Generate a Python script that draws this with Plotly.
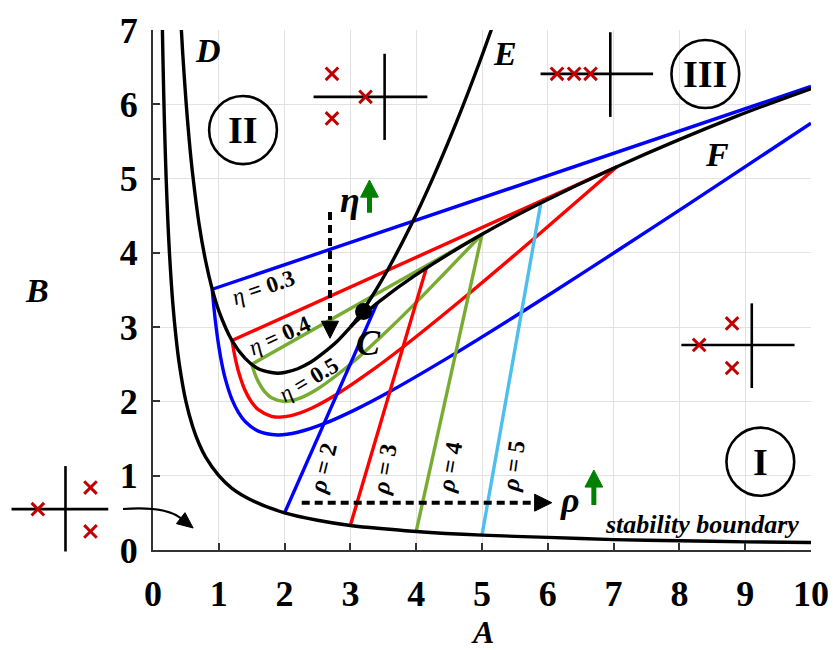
import plotly.graph_objects as go

# ---------------- curves of the (A, B) parameter plane ----------------
# stability boundary  A*B = 1
stab_A = [0.143, 0.15, 0.165, 0.18, 0.2, 0.225, 0.25, 0.3, 0.35, 0.4, 0.5, 0.6, 0.7, 0.8,
          1.0, 1.2, 1.5, 2.0, 2.5, 3.0, 4.0, 5.0, 6.0, 7.0, 8.0, 9.0, 10.0]
stab_B = [7.0, 6.67, 6.06, 5.56, 5.0, 4.44, 4.0, 3.33, 2.86, 2.5, 2.0, 1.67, 1.43, 1.25,
          1.0, 0.83, 0.67, 0.5, 0.4, 0.33, 0.25, 0.2, 0.17, 0.14, 0.125, 0.11, 0.1]

# boundary D (real root equal to real part of the complex pair), ends at C
D_A = [0.43, 0.45, 0.5, 0.55, 0.6, 0.7, 0.8, 0.9, 1.0, 1.2, 1.4, 1.6, 1.8, 1.9, 2.0, 2.2, 2.4, 2.6, 2.8, 3.0]
D_B = [7.02, 6.71, 6.06, 5.52, 5.08, 4.39, 3.89, 3.51, 3.22, 2.82, 2.58, 2.44, 2.39, 2.38, 2.39, 2.44, 2.53, 2.66, 2.81, 3.0]

# boundary E (double real root, upper branch)
E_A = [3.0, 3.026, 3.094, 3.192, 3.31, 3.444, 3.591, 3.909, 4.25, 4.607, 4.974, 5.16]
E_B = [3.0, 3.028, 3.107, 3.228, 3.389, 3.583, 3.81, 4.351, 5.0, 5.749, 6.593, 7.05]

# boundary F (double real root, lower branch)
F_A = [3.0, 3.035, 3.163, 3.441, 3.978, 5.0, 5.838, 7.05, 8.863, 10.0]
F_B = [3.0, 3.032, 3.14, 3.347, 3.693, 4.25, 4.647, 5.16, 5.837, 6.21]

# point C
C_A = [3.2]
C_B = [3.21]

# ---------------- constant eta loops ----------------
eta_values = [0.3, 0.4, 0.5]
eta_colors = ["#0000FF", "#FF0000", "#77AC30"]

eta_upper_A = [[0.9, 10.0], [1.2, 7.05], [1.5, 5.0]]
eta_upper_B = [[3.51, 6.24], [2.82, 5.16], [2.5, 4.25]]

eta_lower_A = [
    [0.9, 0.92, 0.95, 1.0, 1.05, 1.1, 1.2, 1.3, 1.4, 1.6, 1.89, 2.2, 2.6, 3.1, 3.6, 4.6, 5.6, 6.6, 7.6, 8.6, 10.0],
    [1.2, 1.25, 1.3, 1.4, 1.5, 1.6, 1.8, 1.918, 2.1, 2.4, 2.8, 3.3, 3.8, 4.8, 5.8, 7.05],
    [1.5, 1.55, 1.6, 1.7, 1.8, 2.0, 2.2, 2.5, 3.0, 3.5, 4.0, 5.0],
]
eta_lower_B = [
    [3.51, 3.317, 3.067, 2.74, 2.492, 2.3, 2.027, 1.849, 1.73, 1.6, 1.549, 1.585, 1.7, 1.9, 2.133, 2.65, 3.2, 3.767, 4.343, 4.925, 5.746],
    [2.82, 2.582, 2.4, 2.147, 1.989, 1.89, 1.8, 1.789, 1.809, 1.905, 2.1, 2.4, 2.733, 3.45, 4.2, 5.16],
    [2.5, 2.368, 2.267, 2.129, 2.05, 2.0, 2.033, 2.167, 2.5, 2.9, 3.333, 4.25],
]

# ---------------- constant rho lines ----------------
rho_values = [2, 3, 4, 5]
rho_colors = ["#0000FF", "#FF0000", "#77AC30", "#4DBEEE"]
rho_A = [[2.0, 3.41], [3.0, 4.155], [4.0, 5.0], [5.0, 5.894]]
rho_B = [[0.5, 3.33], [0.333, 3.798], [0.25, 4.25], [0.2, 4.67]]

# label positions / angles
eta_label_pos = [(1.68, 3.53, -19), (1.93, 2.89, -24), (2.37, 2.30, -31)]
rho_label_pos = [(2.59, 1.10, -76), (3.52, 1.09, -80), (4.51, 1.12, -80), (5.48, 1.13, -82)]

SERIF = "Liberation Serif"
LW = 3.4

# plot-area size in pixels (fixed margins below)
PLOT_W, PLOT_H = 658, 520

fig = go.Figure()

for i, eta in enumerate(eta_values):
    fig.add_trace(go.Scatter(x=eta_upper_A[i], y=eta_upper_B[i], mode="lines",
                             line=dict(color=eta_colors[i], width=LW), hoverinfo="skip"))
    fig.add_trace(go.Scatter(x=eta_lower_A[i], y=eta_lower_B[i], mode="lines",
                             line=dict(color=eta_colors[i], width=LW, shape="spline", smoothing=0.8),
                             hoverinfo="skip"))

for i, rho in enumerate(rho_values):
    fig.add_trace(go.Scatter(x=rho_A[i], y=rho_B[i], mode="lines",
                             line=dict(color=rho_colors[i], width=LW), hoverinfo="skip"))

for xs, ys in [(stab_A, stab_B), (D_A, D_B), (E_A, E_B), (F_A, F_B)]:
    fig.add_trace(go.Scatter(x=xs, y=ys, mode="lines",
                             line=dict(color="black", width=LW, shape="spline", smoothing=0.8),
                             hoverinfo="skip"))

fig.add_trace(go.Scatter(x=C_A, y=C_B, mode="markers",
                         marker=dict(color="black", size=17), hoverinfo="skip"))

# ---------------- root-location sketches ----------------
def pp(a, b):
    return a / 10.0, b / 7.0

shapes = []
# (horizontal axis, vertical axis) of each small s-plane sketch, in (A, B)
sketch_axes = [
    ((2.44, 4.17, 6.10), (3.52, 5.52, 6.68)),
    ((5.89, 7.60, 6.41), (6.95, 5.83, 6.97)),
    ((8.03, 9.75, 2.76), (9.10, 2.18, 3.32)),
    ((-2.15, -0.68, 0.55), (-1.33, -0.02, 1.13)),
]
for (h0, h1, hy), (vx, v0, v1) in sketch_axes:
    x0, y0 = pp(h0, hy)
    x1, _ = pp(h1, hy)
    shapes.append(dict(type="line", xref="paper", yref="paper", x0=x0, y0=y0, x1=x1, y1=y0,
                       line=dict(color="black", width=2.6)))
    x0, y0 = pp(vx, v0)
    _, y1 = pp(vx, v1)
    shapes.append(dict(type="line", xref="paper", yref="paper", x0=x0, y0=y0, x1=x0, y1=y1,
                       line=dict(color="black", width=2.6)))

# root locations (red crosses)
root_A = [2.72, 2.72, 3.23, 6.14, 6.40, 6.65, 8.30, 8.80, 8.80, -1.75, -0.95, -0.95]
root_B = [6.41, 5.81, 6.10, 6.41, 6.41, 6.41, 2.76, 3.05, 2.45, 0.55, 0.84, 0.25]
ARM = 6.3  # half arm of a cross, px
for a, b in zip(root_A, root_B):
    cx, cy = pp(a, b)
    dx, dy = ARM / PLOT_W, ARM / PLOT_H
    for sgn in (1, -1):
        shapes.append(dict(type="line", xref="paper", yref="paper",
                           x0=cx - dx, y0=cy - sgn * dy, x1=cx + dx, y1=cy + sgn * dy,
                           line=dict(color="#C00000", width=3)))

# curved arrow from the left sketch into region I
p0 = pp(-0.456, 0.552)
pc = pp(0.187, 0.592)
p2 = pp(0.421, 0.429)
shapes.append(dict(type="path", xref="paper", yref="paper",
                   path=f"M {p0[0]} {p0[1]} Q {pc[0]} {pc[1]} {p2[0]} {p2[1]}",
                   line=dict(color="black", width=2.2)))
t, c1, c2 = pp(0.61, 0.296), pp(0.356, 0.355), pp(0.486, 0.503)
shapes.append(dict(type="path", xref="paper", yref="paper",
                   path=f"M {t[0]} {t[1]} L {c1[0]} {c1[1]} L {c2[0]} {c2[1]} Z",
                   fillcolor="black", line=dict(color="black", width=1)))

# region circles
region_centers = [(1.368, 5.653, "II"), (8.394, 6.407, "III"), (9.23, 1.189, "I")]
for a, b, _ in region_centers:
    shapes.append(dict(type="circle", xref="x", yref="y", x0=a - 0.515, x1=a + 0.515,
                       y0=b - 0.458, y1=b + 0.458, line=dict(color="black", width=2.6)))

# dashed eta arrow (downwards)
shapes.append(dict(type="line", xref="x", yref="y", x0=2.69, y0=4.55, x1=2.69, y1=3.1,
                   line=dict(color="black", width=4, dash="8px,5px")))
shapes.append(dict(type="path", xref="x", yref="y",
                   path="M 2.69 2.85 L 2.56 3.08 L 2.82 3.08 Z", fillcolor="black",
                   line=dict(color="black", width=1)))
# dashed rho arrow (to the right)
shapes.append(dict(type="line", xref="x", yref="y", x0=2.26, y0=0.637, x1=5.85, y1=0.637,
                   line=dict(color="black", width=4, dash="8px,5px")))
shapes.append(dict(type="path", xref="x", yref="y",
                   path="M 6.06 0.637 L 5.8 0.751 L 5.8 0.523 Z", fillcolor="black",
                   line=dict(color="black", width=1)))
# green "increase" arrows
for gx, gy0, gy1 in [(3.29, 4.54, 4.98), (6.70, 0.606, 1.077)]:
    shapes.append(dict(type="line", xref="x", yref="y", x0=gx, y0=gy0, x1=gx, y1=gy1 - 0.2,
                       line=dict(color="#008000", width=5)))
    shapes.append(dict(type="path", xref="x", yref="y",
                       path=f"M {gx} {gy1} L {gx - 0.135} {gy1 - 0.23} L {gx + 0.135} {gy1 - 0.23} Z",
                       fillcolor="#008000", line=dict(color="#008000", width=1)))

annotations = []

def label(x, y, text, size, angle=0, xref="x", yref="y"):
    annotations.append(dict(x=x, y=y, xref=xref, yref=yref, text=text, showarrow=False,
                            textangle=angle, font=dict(family=SERIF, size=size, color="black"),
                            xanchor="center", yanchor="middle"))

for a, b, txt in region_centers:
    label(a, b, f"<b>{txt}</b>", 38)

label(0.83, 6.72, "<b><i>D</i></b>", 34)
label(5.35, 6.69, "<b><i>E</i></b>", 34)
label(8.57, 5.32, "<b><i>F</i></b>", 34)
label(3.27, 2.78, "<b><i>C</i></b>", 36)

for (a, b, ang), eta in zip(eta_label_pos, eta_values):
    label(a, b, f"<i>η</i><b> = {eta}</b>", 23, ang)
for (a, b, ang), rho in zip(rho_label_pos, rho_values):
    label(a, b, f"<b><i>ρ</i> = {rho}</b>", 24, ang)

label(3.0, 4.71, "<b><i>η</i></b>", 36)
label(6.34, 0.67, "<b><i>ρ</i></b>", 36)
label(8.34, 0.34, "<b><i>stability boundary</i></b>", 26)

label(0.5, -0.158, "<b><i>A</i></b>", 32, xref="paper", yref="paper")
label(-0.176, 0.5, "<b><i>B</i></b>", 34, xref="paper", yref="paper")

axis_common = dict(
    showgrid=True, gridcolor="#e2e2e2", gridwidth=1, zeroline=False,
    showline=True, linecolor="#333333", linewidth=2, mirror=False,
    ticks="inside", ticklen=7, tickwidth=2, tickcolor="#333333", dtick=1,
    automargin=False,
    tickfont=dict(family=SERIF, size=36, color="black", weight="bold"),
)

fig.update_layout(
    width=833, height=650,
    margin=dict(l=153, r=22, t=30, b=100, autoexpand=False),
    plot_bgcolor="white", paper_bgcolor="white",
    showlegend=False,
    xaxis=dict(range=[0, 10], ticklabelstandoff=11, **axis_common),
    yaxis=dict(range=[0, 7], ticklabelstandoff=6, **axis_common),
    shapes=shapes, annotations=annotations,
)

fig.write_html("out.html")
